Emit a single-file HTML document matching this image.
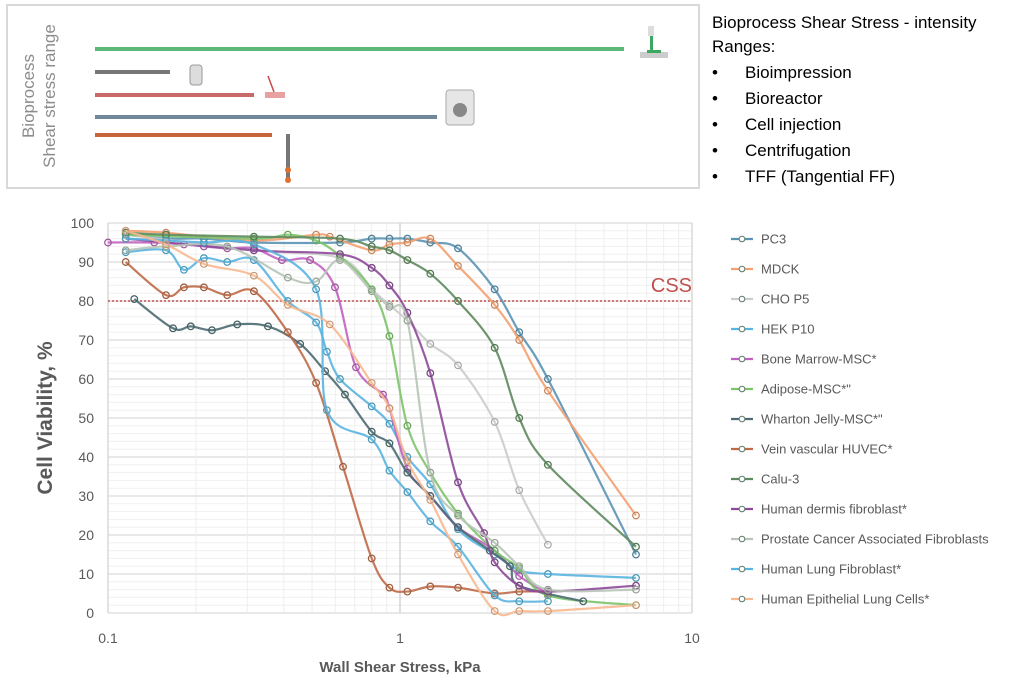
<!DOCTYPE html>
<html><head><meta charset="utf-8"><style>
body{margin:0;background:#fff;width:1024px;height:680px;overflow:hidden;font-family:"Liberation Sans",sans-serif;}
svg{display:block}
</style></head><body>
<svg id="c" width="1024" height="680" xmlns="http://www.w3.org/2000/svg">
<g>
<rect x="7" y="5" width="692" height="183" fill="#fff" stroke="#d9d9d9" stroke-width="2"/>
<text transform="translate(40,96) rotate(-90)" text-anchor="middle" font-size="17" fill="#8c8c8c"><tspan x="0" dy="-6">Bioprocess</tspan><tspan x="0" dy="21">Shear stress range</tspan></text>
<rect x="95" y="47" width="529" height="4" fill="#5cb878"/>
<rect x="95" y="70" width="75" height="4" fill="#777"/>
<rect x="95" y="93" width="159" height="4" fill="#c96a6a"/>
<rect x="95" y="115" width="342" height="4" fill="#6f889c"/>
<rect x="95" y="133" width="177" height="4" fill="#c8643a"/>
<g><rect x="648" y="26" width="6" height="10" fill="#ddd"/><rect x="650" y="36" width="3" height="14" fill="#3aa860"/><rect x="640" y="52" width="28" height="6" fill="#ccc"/><rect x="647" y="50" width="14" height="3" fill="#3aa860"/></g>
<g><rect x="190" y="65" width="12" height="20" rx="3" fill="#ddd" stroke="#999"/></g>
<g><line x1="268" y1="76" x2="274" y2="92" stroke="#c44" stroke-width="1.5"/><rect x="265" y="92" width="20" height="6" fill="#e9a0a0"/></g>
<g><rect x="446" y="90" width="28" height="35" rx="3" fill="#e6e6e6" stroke="#aaa"/><circle cx="460" cy="110" r="7" fill="#888"/></g>
<g><rect x="286" y="134" width="4" height="48" fill="#777"/><circle cx="288" cy="170" r="3" fill="#e07030"/><circle cx="288" cy="180" r="3" fill="#e07030"/></g>
</g>
<g font-size="17" fill="#000">
<text x="712" y="28">Bioprocess Shear Stress - intensity</text>
<text x="712" y="52">Ranges:</text>
<text x="712" y="78">•</text><text x="745" y="78">Bioimpression</text>
<text x="712" y="104">•</text><text x="745" y="104">Bioreactor</text>
<text x="712" y="130">•</text><text x="745" y="130">Cell injection</text>
<text x="712" y="156">•</text><text x="745" y="156">Centrifugation</text>
<text x="712" y="182">•</text><text x="745" y="182">TFF (Tangential FF)</text>
</g>
<g id="grid"></g>
<g id="axes"></g>
<g id="series"></g>
<g id="legend"></g>
</svg>
<script>
const seriesNames=["PC3","MDCK","CHO P5","HEK P10","Bone Marrow-MSC*","Adipose-MSC*\"","Wharton Jelly-MSC*\"","Vein vascular HUVEC*","Calu-3","Human dermis fibroblast*","Prostate Cancer Associated Fibroblasts","Human Lung Fibroblast*","Human Epithelial Lung Cells*"];
const seriesColors=["#5b93b5","#f4a070","#cccccc","#5ab4e0","#c060c0","#7cc46a","#4d6b73","#c06a48","#5f8a5f","#8e4a9a","#b8c4b8","#5ab4e0","#f8b890"];
const xs0=[0.115,0.158,0.213,0.316,0.623,0.80,0.92,1.06,1.27,1.58,2.11,2.56,3.21,6.43];
const ys0=[97,96,96,95,95,96,96,96,95,93.5,83,72,60,15];
const xs1=[0.115,0.158,0.316,0.516,0.575,0.80,0.92,1.06,1.27,1.58,2.11,2.56,3.21,6.43];
const ys1=[98,97.5,95.5,97,96.5,93,94.5,95,96,89,79,70,57,25];
const xs2=[0.115,0.316,0.623,0.80,0.92,1.06,1.27,1.58,2.11,2.56,3.21];
const ys2=[97,93,91,83,79,75,69,63.5,49,31.5,17.5];
const xs3=[0.115,0.158,0.182,0.213,0.256,0.316,0.413,0.516,0.562,0.623,0.80,0.92,1.06,1.27,1.58,2.11,2.56,3.21,6.43];
const ys3=[92.5,93,88,91,90,90.5,80,74.5,67,60,53,48.5,40,33,21.5,15,11,10,9];
const xs4=[0.100,0.144,0.182,0.213,0.256,0.316,0.394,0.492,0.599,0.707,0.875,0.92,1.06,1.27,1.58,2.11,2.56,3.21];
const ys4=[95,95,94.5,94,93.5,93.5,90.5,90.5,83.5,63,56,52.5,37,30,22,16,9.5,5];
const xs5=[0.115,0.316,0.413,0.516,0.623,0.80,0.92,1.06,1.27,1.58,2.11,2.56,3.21,6.43];
const ys5=[97,96,97,95.5,91.5,83,71,48,36,25.5,16,11.5,4.5,2];
const xs6=[0.123,0.167,0.192,0.227,0.277,0.353,0.455,0.554,0.648,0.80,0.92,1.06,1.27,1.58,2.03,2.38,2.56,4.24];
const ys6=[80.5,73,73.5,72.5,74,73.5,69,62,56,46.5,43.5,36,30,22,16,12,7,3];
const xs7=[0.115,0.158,0.182,0.213,0.256,0.316,0.413,0.516,0.638,0.80,0.92,1.06,1.27,1.58,2.11,2.56,3.21];
const ys7=[90,81.5,83.5,83.5,81.5,82.5,72,59,37.5,14,6.5,5.5,6.8,6.5,5,5.5,5.5];
const xs8=[0.115,0.158,0.316,0.623,0.80,0.92,1.06,1.27,1.58,2.11,2.56,3.21,6.43];
const ys8=[97.5,97,96.5,96,94,93,90.5,87,80,68,50,38,17];
const xs9=[0.115,0.316,0.623,0.80,0.92,1.06,1.27,1.58,1.94,2.11,2.56,3.21,6.43];
const ys9=[96,93,92,88.5,84,77,61.5,33.5,20.5,13,7,5.5,7];
const xs10=[0.115,0.158,0.256,0.413,0.516,0.623,0.80,0.92,1.06,1.27,1.58,2.11,2.56,3.21,6.43];
const ys10=[93,94,94,86,85,90.5,82.5,78.5,75,36,25,18,12,6,6];
const xs11=[0.115,0.158,0.213,0.316,0.516,0.562,0.80,0.92,1.06,1.27,1.58,2.11,2.56,3.21];
const ys11=[96,95.5,95,94.5,83,52,44.5,36.5,31,23.5,17,4.5,3,3];
const xs12=[0.115,0.158,0.213,0.316,0.413,0.575,0.80,0.92,1.06,1.27,1.58,2.11,2.56,3.21,6.43];
const ys12=[98,94.5,89.5,86.5,79,74,59,52.5,39,29,15,0.5,0.5,0.5,2];
const xsAll=[xs0,xs1,xs2,xs3,xs4,xs5,xs6,xs7,xs8,xs9,xs10,xs11,xs12];
const ysAll=[ys0,ys1,ys2,ys3,ys4,ys5,ys6,ys7,ys8,ys9,ys10,ys11,ys12];
const yTicks=[0,10,20,30,40,50,60,70,80,90,100];
const xTicks=[0.1,1,10];
const cssValue=80;

const NS="http://www.w3.org/2000/svg";
const X0=108,X1=692,Y0=613,Y1=223;
function sx(v){return X0+(Math.log10(v)+1)/2*(X1-X0);}
function sy(v){return Y0-(v/100)*(Y0-Y1);}
function mk(tag,attrs,parent){const e=document.createElementNS(NS,tag);for(const k in attrs)e.setAttribute(k,attrs[k]);parent.appendChild(e);return e;}
const grid=document.getElementById('grid'),axes=document.getElementById('axes'),ser=document.getElementById('series'),leg=document.getElementById('legend');
for(let v=0;v<=100;v+=2){const l=mk('line',{x1:X0,x2:X1,y1:sy(v),y2:sy(v),stroke:v%10==0?'#d9d9d9':'#f0f0f0','stroke-width':v%10==0?1.3:1},grid);

}
for(let d=0.1;d<5;d*=10){for(let m=1;m<=10;m++){const v=d*m;const l=mk('line',{x1:sx(v),x2:sx(v),y1:Y1,y2:Y0,stroke:(m==1||m==10)?'#d9d9d9':'#eeeeee','stroke-width':(m==1||m==10)?1.5:1},grid);

}}
yTicks.forEach(v=>{const t=mk('text',{x:94,y:sy(v)+5,'text-anchor':'end','font-size':14,fill:'#595959'},axes);t.textContent=v;

});
xTicks.forEach(v=>{const t=mk('text',{x:sx(v),y:643,'text-anchor':'middle','font-size':14,fill:'#595959'},axes);t.textContent=v;

});
let t=mk('text',{transform:'translate(52,418) rotate(-90)','text-anchor':'middle','font-size':21,'font-weight':'bold',fill:'#595959'},axes);t.textContent='Cell Viability,  %';


t=mk('text',{x:400,y:672,'text-anchor':'middle','font-size':15,'font-weight':'bold',fill:'#595959'},axes);t.textContent='Wall Shear Stress, kPa';


let cl=mk('line',{x1:X0,x2:X1,y1:sy(cssValue),y2:sy(cssValue),stroke:'#c0504d','stroke-width':1.5,'stroke-dasharray':'2,2'},axes);


t=mk('text',{x:692,y:sy(cssValue)-9,'text-anchor':'end','font-size':20,fill:'#c0504d'},axes);t.textContent='CSS';


function smooth(p){let d='M'+p[0][0]+','+p[0][1];for(let i=0;i<p.length-1;i++){const p0=p[i-1]||p[i],p1=p[i],p2=p[i+1],p3=p[i+2]||p2;const c1=[p1[0]+(p2[0]-p0[0])/6,p1[1]+(p2[1]-p0[1])/6],c2=[p2[0]-(p3[0]-p1[0])/6,p2[1]-(p3[1]-p1[1])/6];d+=' C'+c1+' '+c2+' '+p2;}return d;}
xsAll.forEach((xs,i)=>{const g=mk('g',{},ser);


const pts=xs.map((x,j)=>[sx(x),sy(ysAll[i][j])]);
const p=mk('path',{d:smooth(pts),fill:'none',stroke:seriesColors[i],'stroke-width':2.2,opacity:0.9},g);


pts.forEach(q=>{const c=mk('circle',{cx:q[0],cy:q[1],r:3.3,fill:'none',stroke:seriesColors[i],'stroke-width':1.3},g);


mk('circle',{cx:q[0],cy:q[1],r:3.3,fill:'none',stroke:'rgba(60,80,60,0.35)','stroke-width':0.8},g);});
const ly=239+i*30;const lg=mk('g',{},leg);


mk('line',{x1:731,x2:753,y1:ly,y2:ly,stroke:seriesColors[i],'stroke-width':2.2},lg);
mk('circle',{cx:742,cy:ly,r:2.8,fill:'#fff',stroke:'#5a7a6a','stroke-width':1},lg);
const lt=mk('text',{x:761,y:ly+4.5,'font-size':13,fill:'#595959'},lg);lt.textContent=seriesNames[i];});
</script>
</body></html>
